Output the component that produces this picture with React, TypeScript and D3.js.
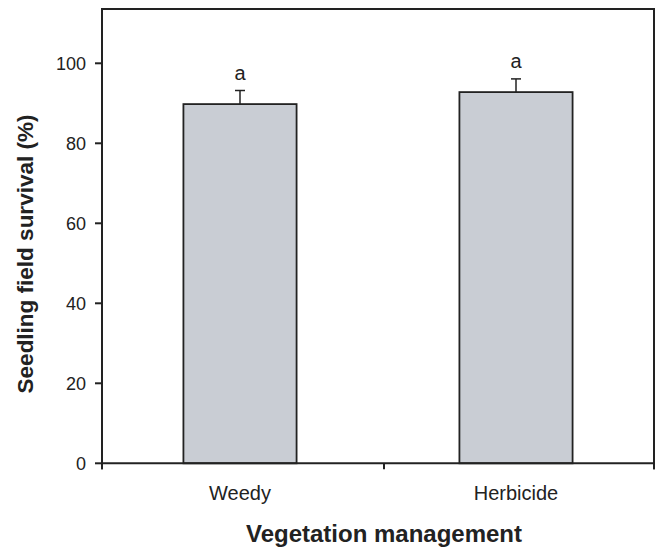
import React from "react";
import * as d3 from "d3";

const categories = ["Weedy", "Herbicide"];
const means = [89.8, 92.8];
const errors = [3.4, 3.3];
const letters = ["a", "a"];
const yTicks = [0, 20, 40, 60, 80, 100];

const W = 658;
const H = 548;
const left = 102;
const right = 654;
const FONT = "'Liberation Sans', Arial, Helvetica, sans-serif";
const INK = "#222";

export default function App() {
  const y = d3.scaleLinear().domain([0, 100]).range([463.3, 63.3]);
  const yTop = y(113.6);
  const x = d3
    .scaleBand<string>()
    .domain(categories)
    .range([left, right])
    .paddingInner(0.59)
    .paddingOuter(0.295);
  const bw = x.bandwidth();
  const y0 = y(0);
  const midTick = (x(categories[0])! + bw + x(categories[1])!) / 2 + 6;
  const xTicks = [left, midTick, right];

  return (
    <svg width={W} height={H} style={{ position: "absolute", left: 0, top: 0, background: "#fff" }}>
      {categories.map((c, i) => {
        const cx = x(c)! + bw / 2;
        const top = y(means[i]);
        const et = y(means[i] + errors[i]);
        return (
          <g key={c}>
            <rect x={x(c)} y={top} width={bw} height={y0 - top} fill="#c9cdd4" stroke={INK} strokeWidth={1.8} />
            <line x1={cx} x2={cx} y1={top} y2={et} stroke={INK} strokeWidth={1.5} />
            <line x1={cx - 5} x2={cx + 5} y1={et} y2={et} stroke={INK} strokeWidth={1.5} />
            <text x={cx} y={et - 10.5} textAnchor="middle" fontFamily={FONT} fontSize={20} fill={INK}>
              {letters[i]}
            </text>
            <text x={cx} y={500} textAnchor="middle" fontFamily={FONT} fontSize={20} fill={INK}>
              {c}
            </text>
          </g>
        );
      })}
      <line x1={left} x2={left} y1={yTop} y2={y0 + 6} stroke={INK} strokeWidth={2} />
      <line x1={right} x2={right} y1={yTop} y2={y0 + 6} stroke={INK} strokeWidth={2} />
      <line x1={left - 1} x2={right + 1} y1={yTop} y2={yTop} stroke={INK} strokeWidth={2} />
      <line x1={left - 1} x2={right + 1} y1={y0} y2={y0} stroke={INK} strokeWidth={2} />
      {xTicks.map((t, i) => (
        <line key={i} x1={t} x2={t} y1={y0} y2={y0 + 6} stroke={INK} strokeWidth={2} />
      ))}
      {yTicks.map((t) => (
        <g key={t}>
          <line x1={left - 7} x2={left} y1={y(t)} y2={y(t)} stroke={INK} strokeWidth={2} />
          <text x={86} y={y(t)} dy="0.36em" textAnchor="end" fontFamily={FONT} fontSize={18} fill={INK}>
            {t}
          </text>
        </g>
      ))}
      <text
        transform={`translate(33,254) rotate(-90)`}
        textAnchor="middle"
        fontFamily={FONT}
        fontSize={22.5}
        fontWeight="bold"
        fill={INK}
      >
        Seedling field survival (%)
      </text>
      <text x={384} y={542} textAnchor="middle" fontFamily={FONT} fontSize={24} fontWeight="bold" fill={INK}>
        Vegetation management
      </text>
    </svg>
  );
}
